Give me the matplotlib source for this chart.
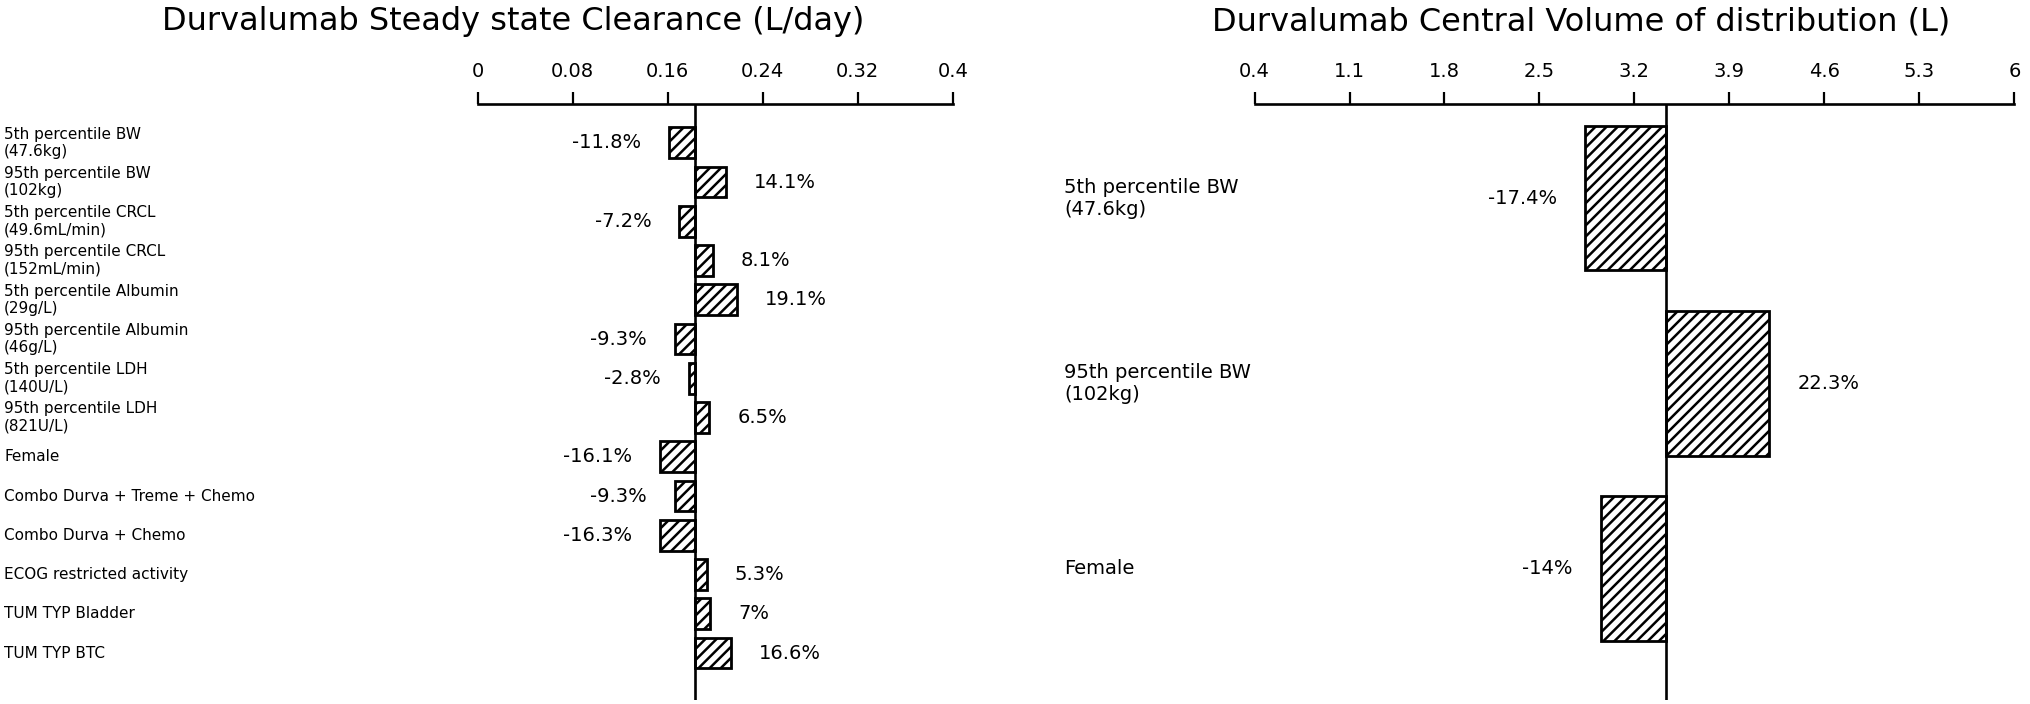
import matplotlib
matplotlib.use("Agg")
import matplotlib.pyplot as plt
import matplotlib.transforms as mtransforms
import numpy as np

# 清除率 (L/day) 的协变量效应
cl_labels = [
    "5th percentile BW\n(47.6kg)",
    "95th percentile BW\n(102kg)",
    "5th percentile CRCL\n(49.6mL/min)",
    "95th percentile CRCL\n(152mL/min)",
    "5th percentile Albumin\n(29g/L)",
    "95th percentile Albumin\n(46g/L)",
    "5th percentile LDH\n(140U/L)",
    "95th percentile LDH\n(821U/L)",
    "Female",
    "Combo Durva + Treme + Chemo",
    "Combo Durva + Chemo",
    "ECOG restricted activity",
    "TUM TYP Bladder",
    "TUM TYP BTC",
]
cl_pct = [-11.8, 14.1, -7.2, 8.1, 19.1, -9.3, -2.8, 6.5, -16.1, -9.3, -16.3, 5.3, 7, 16.6]
cl_ref = 0.183
cl_ticks = [0, 0.08, 0.16, 0.24, 0.32, 0.4]
cl_ticklabels = ["0", "0.08", "0.16", "0.24", "0.32", "0.4"]

# 中央分布容积 (L) 的协变量效应
vc_labels = ["5th percentile BW\n(47.6kg)", "95th percentile BW\n(102kg)", "Female"]
vc_pct = [-17.4, 22.3, -14]
vc_ref = 3.43
vc_ticks = [0.4, 1.1, 1.8, 2.5, 3.2, 3.9, 4.6, 5.3, 6]
vc_ticklabels = ["0.4", "1.1", "1.8", "2.5", "3.2", "3.9", "4.6", "5.3", "6"]

plt.rcParams["font.family"] = ["DejaVu Sans"]
plt.rcParams["hatch.linewidth"] = 1.8

fig = plt.figure(figsize=(20.3, 7.04), dpi=100)


def draw_panel(ax, labels, pct, ref, ticks, ticklabels, ylim, label_x, label_size):
    y = np.arange(len(labels))
    pct = np.array(pct, dtype=float)
    widths = ref * pct / 100.0
    ax.barh(y, widths, left=ref, height=0.78, color="white", edgecolor="black",
            linewidth=2.0, hatch="///")
    ax.axvline(ref, color="black", linewidth=1.9)

    ax.set_xlim(ticks[0], ticks[-1])
    ax.set_ylim(*ylim)
    ax.set_xticks(ticks)
    ax.set_xticklabels(ticklabels)
    ax.xaxis.tick_top()
    ax.tick_params(axis="x", length=9, width=1.6, labelsize=14, pad=7)
    ax.set_yticks([])
    for side in ["left", "right", "bottom"]:
        ax.spines[side].set_visible(False)
    ax.spines["top"].set_linewidth(1.9)

    # 数值标签
    for yi, p, w in zip(y, pct, widths):
        txt = f"{p:g}%"
        if p < 0:
            ax.annotate(txt, (ref + w, yi), xytext=(-28, 0), textcoords="offset pixels",
                        ha="right", va="center", fontsize=14)
        else:
            ax.annotate(txt, (ref + w, yi), xytext=(28, 0), textcoords="offset pixels",
                        ha="left", va="center", fontsize=14)

    # 类别标签放在图的左侧
    trans = mtransforms.blended_transform_factory(fig.transFigure, ax.transData)
    for yi, lab in zip(y, labels):
        ax.text(label_x, yi, lab, transform=trans, ha="left", va="center",
                fontsize=label_size, clip_on=False)


ax1 = fig.add_axes([0.2353, 0.0055, 0.2341, 0.8474])
draw_panel(ax1, cl_labels, cl_pct, cl_ref, cl_ticks, cl_ticklabels,
           (14.2, -1.0), 0.002, 11)

ax2 = fig.add_axes([0.618, 0.0055, 0.3743, 0.8474])
draw_panel(ax2, vc_labels, vc_pct, vc_ref, vc_ticks, vc_ticklabels,
           (2.71, -0.51), 0.5242, 14)

fig.text(0.2526, 0.969, "Durvalumab Steady state Clearance (L/day)",
         ha="center", va="center", fontsize=23)
fig.text(0.7787, 0.969, "Durvalumab Central Volume of distribution (L)",
         ha="center", va="center", fontsize=23)

fig.savefig("out.png", dpi=100)
